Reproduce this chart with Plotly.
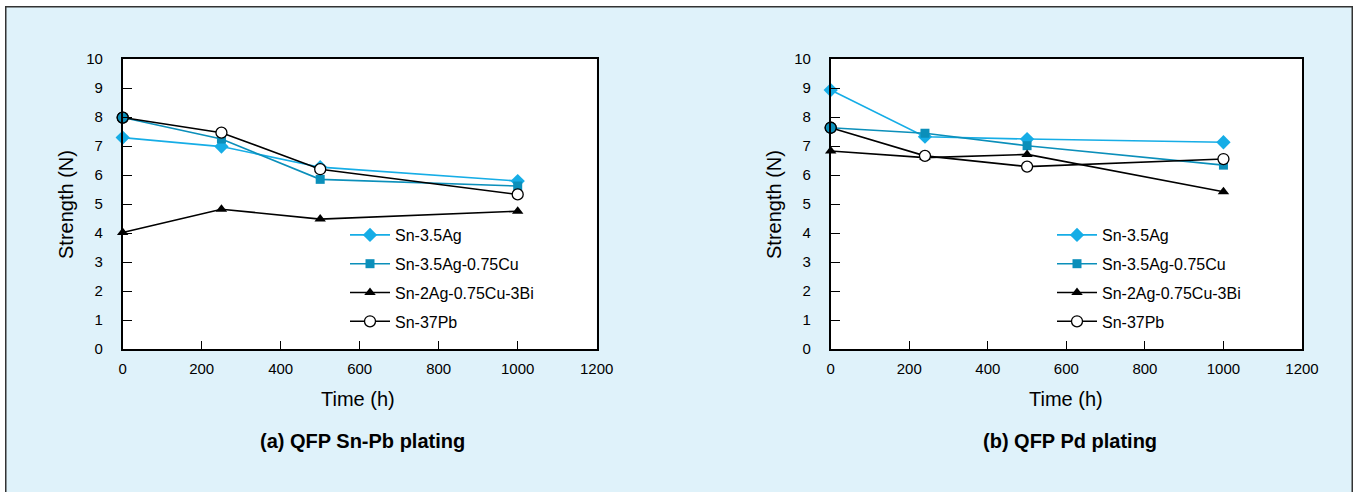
import plotly.graph_objects as go

# ---- data ----
time_a = [0, 250, 500, 1000]
time_b = [0, 240, 500, 1000]
series_names = ["Sn-3.5Ag", "Sn-3.5Ag-0.75Cu", "Sn-2Ag-0.75Cu-3Bi", "Sn-37Pb"]

a_sn35ag = [7.29, 6.98, 6.27, 5.79]
a_sn35ag075cu = [7.98, 7.24, 5.85, 5.62]
a_sn2ag = [4.02, 4.82, 4.48, 4.75]
a_sn37pb = [7.98, 7.46, 6.20, 5.33]

b_sn35ag = [8.93, 7.32, 7.24, 7.13]
b_sn35ag075cu = [7.63, 7.44, 7.01, 6.34]
b_sn2ag = [6.83, 6.60, 6.71, 5.42]
b_sn37pb = [7.63, 6.66, 6.29, 6.55]

x_ticks = [0, 200, 400, 600, 800, 1000, 1200]
y_ticks = list(range(0, 11))
panel_titles = ["(a) QFP Sn-Pb plating", "(b) QFP Pd plating"]

# ---- style ----
# body margin is set to 6px (top) / 5px (left) by the post script
OFFX, OFFY = 5, 6
W, H = 1348, 486
BG = "#dff2fa"
C_LIGHT = "#16ade6"
C_TEAL = "#0b8fba"
FONT = "Liberation Sans, Arial, sans-serif"

def px(x):  # page x -> paper fraction
    return (x - OFFX) / W

def py(y):  # page y -> paper fraction
    return 1 - (y - OFFY) / H

styles = [
    dict(color=C_LIGHT, symbol="diamond", size=11),
    dict(color=C_TEAL, symbol="square", size=9),
    dict(color="black", symbol="triangle-up", size=10),
    dict(color="black", symbol="circle", size=11),
]

fig = go.Figure()

def add_panel(xs, ys_list, xa, ya, legend):
    for i, (name, ys) in enumerate(zip(series_names, ys_list)):
        st = styles[i]
        if st["symbol"] == "circle":
            marker = dict(symbol="circle", size=st["size"], color="white",
                          line=dict(color="black", width=1.3))
        else:
            marker = dict(symbol=st["symbol"], size=st["size"], color=st["color"],
                          line=dict(width=0))
        fig.add_trace(go.Scatter(
            x=xs, y=ys, name=name, mode="lines+markers",
            line=dict(color=st["color"], width=1.6),
            marker=marker, xaxis=xa, yaxis=ya, legend=legend,
            legendgroup=legend + str(i), cliponaxis=False,
        ))
    # first Sn-37Pb point is drawn teal-filled in the reference
    ys = ys_list[3]
    fig.add_trace(go.Scatter(
        x=[xs[0]], y=[ys[0]], mode="markers", showlegend=False, hoverinfo="skip",
        marker=dict(symbol="circle", size=11, color=C_TEAL, line=dict(color="black", width=1.3)),
        xaxis=xa, yaxis=ya, cliponaxis=False,
    ))

add_panel(time_a, [a_sn35ag, a_sn35ag075cu, a_sn2ag, a_sn37pb], "x", "y", "legend")
add_panel(time_b, [b_sn35ag, b_sn35ag075cu, b_sn2ag, b_sn37pb], "x2", "y2", "legend2")

# plot area geometry (page pixels)
L1, R1 = 122.7, 596.7
L2, R2 = 830.7, 1302.0
TOP, BOT = 59.0, 349.0

def axis_common():
    return dict(
        showgrid=False, zeroline=False, showline=True, linecolor="black", linewidth=1.5,
        mirror=True, ticks="inside", tickcolor="black", tickwidth=1, automargin=False,
        tickfont=dict(family=FONT, size=15, color="black"),
    )

xa = axis_common()
xa.update(range=[0, 1200], tickvals=x_ticks, ticklen=8, ticklabelstandoff=5)
ya = axis_common()
ya.update(range=[0, 10], tickvals=y_ticks, ticklen=10, ticklabelstandoff=15)

legend_common = dict(xanchor="left", yanchor="top", bgcolor="rgba(0,0,0,0)",
                     font=dict(family=FONT, size=16, color="black"),
                     tracegroupgap=5, itemwidth=40)

fig.update_layout(
    width=W, height=H,
    margin=dict(l=0, r=0, t=0, b=0, pad=0, autoexpand=False),
    paper_bgcolor=BG, plot_bgcolor="white",
    font=dict(family=FONT, color="black"),
    xaxis=dict(xa, domain=[px(L1), px(R1)], anchor="y"),
    yaxis=dict(ya, domain=[py(BOT), py(TOP)], anchor="x"),
    xaxis2=dict(xa, domain=[px(L2), px(R2)], anchor="y2"),
    yaxis2=dict(ya, domain=[py(BOT), py(TOP)], anchor="x2"),
    legend=dict(legend_common, x=px(345), y=py(218)),
    legend2=dict(legend_common, x=px(1052), y=py(218)),
    showlegend=True,
)

annotations = [
    dict(text="Strength (N)", x=px(66), y=py(205), textangle=-90, font=dict(size=20)),
    dict(text="Strength (N)", x=px(774), y=py(205), textangle=-90, font=dict(size=20)),
    dict(text="Time (h)", x=px(358), y=py(399), font=dict(size=20)),
    dict(text="Time (h)", x=px(1066), y=py(399), font=dict(size=20)),
    dict(text="<b>" + panel_titles[0] + "</b>", x=px(362), y=py(441), font=dict(size=20)),
    dict(text="<b>" + panel_titles[1] + "</b>", x=px(1070), y=py(441), font=dict(size=20)),
]
for a in annotations:
    a.update(xref="paper", yref="paper", showarrow=False, xanchor="center", yanchor="middle")
    a["font"] = dict(a["font"], family=FONT, color="black")
fig.update_layout(annotations=annotations)

# outer frame (left, top, right edges)
fig.add_shape(type="rect", xref="paper", yref="paper",
              x0=0.75 / W, x1=1 - 0.75 / W, y0=-0.05, y1=1 - 0.75 / H,
              line=dict(color="#333333", width=1.5), fillcolor="rgba(0,0,0,0)", layer="below")

post = "document.body.style.margin='6px 0px 0px 5px';"
fig.write_html("out.html", config={"displayModeBar": False}, post_script=post)
